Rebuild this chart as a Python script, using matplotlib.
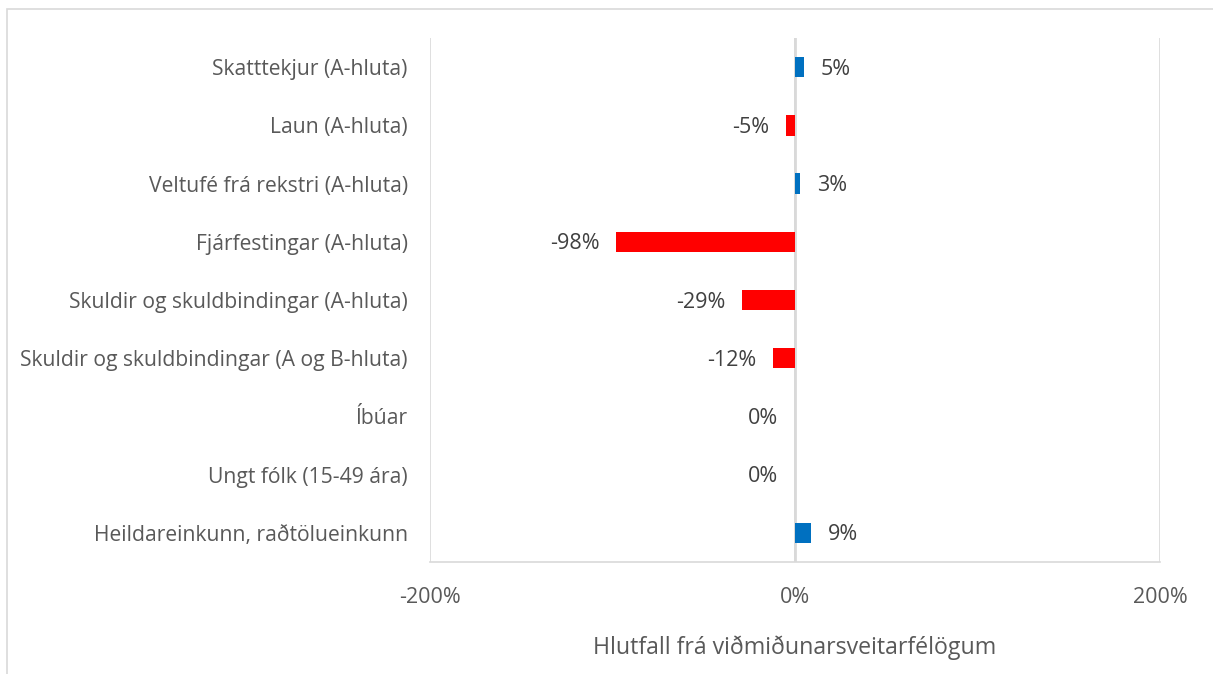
import matplotlib.pyplot as plt
from matplotlib.patches import Rectangle

categories = [
    "Skatttekjur (A-hluta)",
    "Laun (A-hluta)",
    "Veltufé frá rekstri (A-hluta)",
    "Fjárfestingar (A-hluta)",
    "Skuldir og skuldbindingar (A-hluta)",
    "Skuldir og skuldbindingar (A og B-hluta)",
    "Íbúar",
    "Ungt fólk (15-49 ára)",
    "Heildareinkunn, raðtölueinkunn",
]
values = [5, -5, 3, -98, -29, -12, 0, 0, 9]
xticks = [-200, 0, 200]

BLUE = "#0070C0"
RED = "#FF0000"
TEXT = "#595959"
LABEL = "#404040"
GRID = "#D9D9D9"

plt.rcParams["font.family"] = ["Open Sans", "DejaVu Sans"]

fig = plt.figure(figsize=(12.13, 6.74), dpi=100)
ax = fig.add_axes([430 / 1213, 1 - 562 / 674, 730 / 1213, 524 / 674])

ypos = list(range(len(categories)))
colors = [BLUE if v > 0 else RED for v in values]
ax.barh(ypos, values, height=0.35, color=colors, zorder=3)

# data labels: right of positive bars, left of the rest
for y, v in zip(ypos, values):
    if v > 0:
        ax.annotate(f"{v}%", (v, y), xytext=(12, -1.5), textcoords="offset points",
                    ha="left", va="center", fontsize=15.5, color=LABEL)
    else:
        ax.annotate(f"{v}%", (v, y), xytext=(-12, -1.5), textcoords="offset points",
                    ha="right", va="center", fontsize=15.5, color=LABEL)

ax.set_xlim(-200, 200)
ax.set_ylim(len(categories) - 0.5, -0.5)
ax.set_xticks(xticks)
ax.set_xticklabels([f"{t}%" for t in xticks], fontsize=15.5, color=TEXT)
ax.set_yticks(ypos)
ax.set_yticklabels(categories, fontsize=15.2, color=TEXT)
ax.tick_params(length=0, pad=16)
ax.tick_params(axis="x", pad=18)
ax.grid(axis="x", color=GRID, linewidth=1.2, zorder=0)
for s in ["top", "left", "right"]:
    ax.spines[s].set_visible(False)
ax.spines["bottom"].set_color(GRID)
ax.spines["bottom"].set_linewidth(1.2)
ax.axvline(0, color=GRID, linewidth=2, zorder=1)

ax.set_xlabel("Hlutfall frá viðmiðunarsveitarfélögum", fontsize=16.7, color=TEXT, labelpad=20)

# outer chart border, cut off at right and bottom
fig.patches.append(Rectangle((7 / 1213, -0.1), 1.2, 1 - 9 / 674 + 0.1,
                             transform=fig.transFigure, fill=False,
                             edgecolor=GRID, linewidth=1.2))

fig.savefig("out.png", dpi=100)
